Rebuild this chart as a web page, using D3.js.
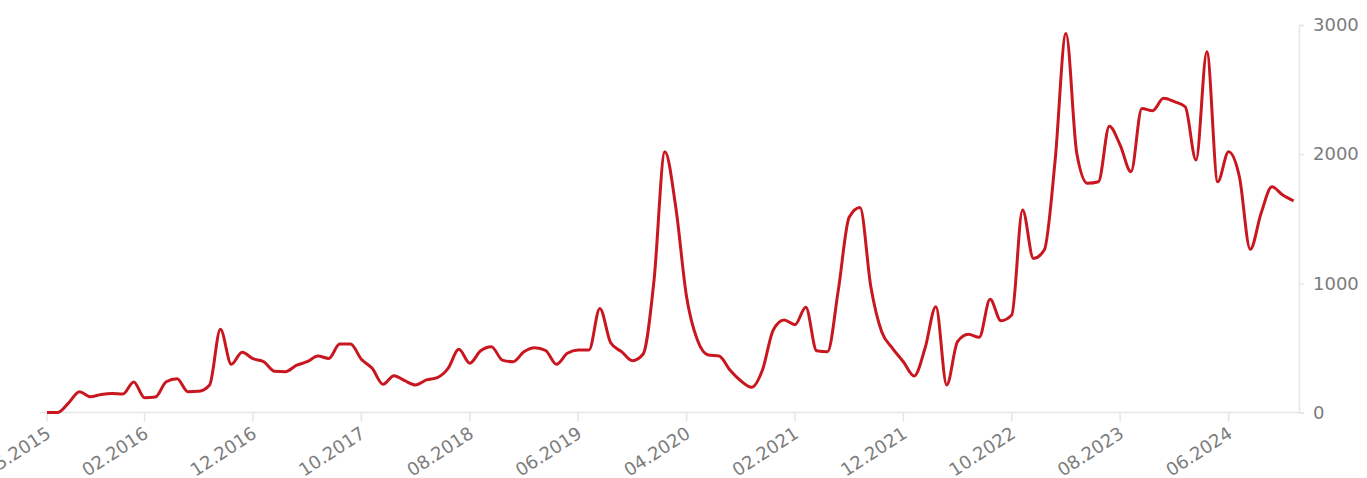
<!DOCTYPE html>
<html>
<head>
<meta charset="utf-8">
<script src="https://cdn.jsdelivr.net/npm/d3@7"></script>
<style>
  body { margin: 0; background: #fff; }
  svg { display: block; }
  .axis text { font-family: "DejaVu Sans", sans-serif; font-size: 18px; fill: #7c7c7c; }
</style>
</head>
<body>
<svg id="chart" width="1367" height="478"></svg>
<script>
// monthly values, 05.2015 .. 12.2024
var values = [
  0, 0, 75, 160, 122, 140, 148, 143, 236, 115,
  120, 238, 262, 161, 164, 213, 644, 373, 466, 417,
  393, 319, 316, 365, 393, 437, 419, 530, 530, 412,
  342, 218, 285, 246, 213, 252, 270, 342, 489, 381,
  478, 510, 406, 393, 471, 502, 480, 373, 458, 484,
  484, 806, 540, 471, 401, 453, 1025, 2019, 1593, 896,
  561, 445, 437, 329, 246, 195, 329, 639, 716, 680,
  814, 478, 471, 948, 1511, 1588, 974, 625, 497, 393,
  283, 497, 819, 213, 548, 605, 582, 876, 711, 755,
  1567, 1193, 1258, 1950, 2935, 2006, 1774, 1786, 2217, 2070,
  1864, 2354, 2336, 2432, 2406, 2367, 1954, 2793, 1786, 2019,
  1825, 1263, 1542, 1748, 1683, 1639
];
// month index of each labelled tick
var tickIndex = [0, 9, 19, 29, 39, 49, 59, 69, 79, 89, 99, 109];
var tickLabels = ["05.2015", "02.2016", "12.2016", "10.2017", "08.2018", "06.2019",
                  "04.2020", "02.2021", "12.2021", "10.2022", "08.2023", "06.2024"];
var yTicks = [0, 1000, 2000, 3000];

var svg = d3.select("#chart");

var x = d3.scaleLinear().domain([0, values.length - 1]).range([47, 1293.6]);
var y = d3.scaleLinear().domain([0, 3000]).range([412.5, 25]);

var axisLeftEdge = 40, axisRight = 1299;

// x axis baseline
var xAxis = svg.append("g").attr("class", "axis")
  .attr("transform", "translate(0," + y(0) + ")");
xAxis.append("line")
  .attr("x1", axisLeftEdge).attr("x2", axisRight)
  .attr("stroke", "#e6e6e6").attr("stroke-width", 1.5);

var xt = xAxis.selectAll("g.tick")
  .data(tickIndex)
  .enter().append("g")
  .attr("class", "tick")
  .attr("transform", function(d) { return "translate(" + x(d) + ",0)"; });
xt.append("line").attr("y2", 9).attr("stroke", "#e6e6e6").attr("stroke-width", 1.5);
xt.append("text")
  .attr("text-anchor", "end")
  .attr("transform", "translate(5,24) rotate(-33)")
  .text(function(d, i) { return tickLabels[i]; });

// y axis on the right
var yAxis = svg.append("g").attr("class", "axis")
  .attr("transform", "translate(" + axisRight + ",0)")
  .call(d3.axisRight(y).tickValues(yTicks).tickSize(5).tickPadding(9).tickFormat(d3.format("d")));
yAxis.select(".domain").attr("stroke", "#e6e6e6").attr("stroke-width", 1.5);
yAxis.selectAll(".tick line").attr("stroke", "#e6e6e6").attr("stroke-width", 1.5);
yAxis.selectAll("text").attr("font-family", null).attr("font-size", null).attr("fill", null);

// the series
var line = d3.line()
  .x(function(d, i) { return x(i); })
  .y(function(d) { return y(d); })
  .curve(d3.curveMonotoneX);

svg.append("path")
  .datum(values)
  .attr("fill", "none")
  .attr("stroke", "#c8171f")
  .attr("stroke-width", 3)
  .attr("stroke-linejoin", "round")
  .attr("d", line);
</script>
</body>
</html>
